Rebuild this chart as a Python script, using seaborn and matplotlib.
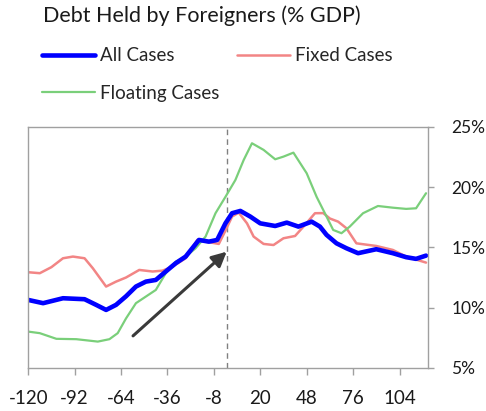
import seaborn as sns
import matplotlib.pyplot as plt
from matplotlib.ticker import FuncFormatter

sns.set_style("white")
plt.rcParams['font.family'] = ['Lato', 'DejaVu Sans']
plt.rcParams['axes.unicode_minus'] = False

# data (months relative to event, % of GDP)
all_t = [-120, -111, -99, -86, -79, -73, -67, -61, -55, -49, -43, -37, -31, -25, -17, -11, -6, -1,
         3, 8, 14, 20, 29, 36, 43, 51, 56, 60, 66, 72, 79, 90, 100, 108, 114, 120]
all_v = [10.64, 10.37, 10.78, 10.7, 10.23, 9.81, 10.23, 10.94, 11.75, 12.16, 12.3, 13.0, 13.69, 14.24,
         15.62, 15.48, 15.62, 17.0, 17.84, 18.03, 17.56, 17.0, 16.78, 17.06, 16.73, 17.14, 16.73, 16.04,
         15.34, 14.93, 14.52, 14.85, 14.52, 14.19, 14.05, 14.32]

fixed_t = [-120, -113, -106, -99, -93, -86, -81, -73, -67, -61, -53, -45, -39, -33, -25, -18, -13, -5, -1,
           3, 7, 12, 16, 22, 28, 34, 41, 47, 53, 58, 62, 67, 72, 78, 90, 100, 108, 120]
fixed_v = [12.94, 12.86, 13.36, 14.1, 14.24, 14.1, 13.27, 11.75, 12.16, 12.5, 13.13, 13.0, 13.07, 13.4,
           14.1, 15.62, 15.48, 15.29, 16.4, 17.56, 17.89, 17.0, 15.9, 15.29, 15.2, 15.76, 15.95, 16.87,
           17.84, 17.85, 17.4, 17.14, 16.59, 15.34, 15.12, 14.79, 14.24, 13.74]

float_t = [-120, -113, -103, -91, -78, -71, -66, -61, -55, -49, -43, -37, -31, -25, -19, -13, -7, -1,
           5, 10, 15, 22, 29, 34, 40, 48, 54, 60, 64, 69, 74, 82, 91, 100, 108, 114, 120]
float_v = [8.01, 7.88, 7.41, 7.38, 7.18, 7.38, 7.88, 9.1, 10.37, 10.92, 11.47, 12.86, 13.82, 14.24,
           14.93, 15.9, 17.84, 19.2, 20.6, 22.26, 23.65, 23.1, 22.32, 22.54, 22.87, 21.16, 19.2, 17.56,
           16.45, 16.18, 16.73, 17.84, 18.44, 18.3, 18.2, 18.25, 19.5]

x_ticks = [-120, -92, -64, -36, -8, 20, 48, 76, 104]
y_ticks = [5, 10, 15, 20, 25]

# arrow annotation (tail -> head), data units
arrow_tail = (-58, 7.5)
arrow_head = (1, 14.8)

fig = plt.figure(figsize=(4.86, 4.11), dpi=100)
ax = fig.add_axes([0.058, 0.105, 0.822, 0.586])

ax.axvline(0, color='#808080', lw=1, ls=(0, (4, 3)), zorder=1)
line_kw = dict(solid_joinstyle='round', solid_capstyle='round')
sns.lineplot(x=fixed_t, y=fixed_v, ax=ax, color='#F28585', linewidth=1.8, label='Fixed Cases', **line_kw)
sns.lineplot(x=float_t, y=float_v, ax=ax, color='#7ACF7A', linewidth=1.6, label='Floating Cases', **line_kw)
sns.lineplot(x=all_t, y=all_v, ax=ax, color='#0000FF', linewidth=3.3, label='All Cases', **line_kw)

ax.annotate('', xy=arrow_head, xytext=arrow_tail,
            arrowprops=dict(arrowstyle='-|>', color='#3a3a3a', lw=2.2, mutation_scale=22))

ax.set_xlim(-120, 121)
ax.set_ylim(5, 25)
ax.set_xticks(x_ticks)
ax.set_yticks(y_ticks)
ax.yaxis.tick_right()
ax.yaxis.set_major_formatter(FuncFormatter(lambda v, p: f"{v:.0f}%"))
ax.tick_params(axis='x', direction='out', length=5, width=1, color='#A0A0A0', pad=11,
               labelsize=13.5, labelcolor='#1a1a1a', bottom=True)
ax.tick_params(axis='y', direction='out', length=4, width=1, color='#A0A0A0', pad=13,
               labelsize=12.5, labelcolor='#1a1a1a', right=True, left=False)
for s in ax.spines.values():
    s.set_color('#A0A0A0')
    s.set_linewidth(1)
ax.set_xlabel('')
ax.set_ylabel('')

handles, labels = ax.get_legend_handles_labels()
order = [2, 1, 0]
ax.get_legend().remove()
fig.legend([handles[i] for i in order], [labels[i] for i in order],
           loc='upper left', bbox_to_anchor=(0.086, 0.885), ncol=2, frameon=False,
           fontsize=13.5, handlelength=2.85, handletextpad=0.27, columnspacing=0.9,
           labelspacing=1.1, borderpad=0, borderaxespad=0)

fig.text(0.089, 1 - 16 / 411, 'Debt Held by Foreigners (% GDP)', fontsize=15.5,
         ha='left', va='center', color='#1a1a1a')

fig.savefig('out.png', dpi=100)
